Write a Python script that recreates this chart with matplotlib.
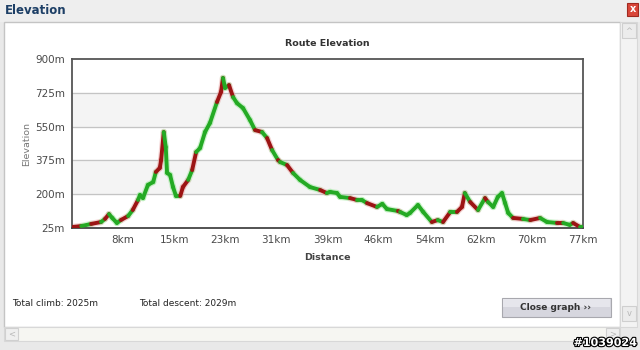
import numpy as np
import matplotlib.pyplot as plt
from matplotlib.collections import LineCollection
from matplotlib.patches import Rectangle
import matplotlib.patheffects as pe

# route profile (km, m)
dist_km = [0.0, 1.4, 2.9, 4.4, 5.0, 5.6, 6.1, 6.8, 7.4, 8.5, 9.2, 10.0, 10.3, 10.75,
           11.5, 12.3, 12.7, 13.3, 13.5, 13.9, 14.2, 14.4, 14.85, 15.3, 15.75, 16.4,
           16.8, 17.6, 18.2, 18.8, 19.4, 20.15, 20.9, 21.96, 22.57, 22.87, 23.18,
           23.78, 24.39, 25.0, 25.9, 26.96, 27.72, 28.78, 29.54, 30.3, 31.2, 31.5,
           32.57, 33.48, 34.54, 36.05, 37.57, 38.6, 39.08, 40.14, 40.6, 42.1, 43.17,
           43.9, 44.68, 46.2, 47.0, 47.7, 49.38, 49.7, 50.7, 51.2, 52.4, 53.2, 54.5,
           55.4, 56.2, 57.3, 58.3, 59.07, 59.5, 60.3, 61.5, 62.56, 63.0, 63.8, 64.5,
           65.13, 65.6, 66.07, 66.8, 68.3, 69.4, 70.9, 71.95, 73.5, 74.4, 75.4, 75.9,
           76.95, 77.4]
elev_m = [30, 35, 46, 56, 72, 97, 77, 51, 66, 87, 118, 170, 196, 180,
          248, 263, 315, 336, 377, 522, 444, 310, 300, 237, 191, 191,
          237, 274, 325, 418, 439, 522, 569, 677, 729, 802, 750,
          765, 703, 671, 646, 584, 532, 522, 491, 429, 377, 367,
          351, 310, 274, 237, 222, 206, 212, 206, 186, 180, 170,
          170, 154, 134, 150, 123, 113, 108, 92, 103, 144, 108, 56,
          66, 56, 108, 108, 134, 206, 160, 118, 180, 160, 134, 186,
          206, 154, 103, 77, 72, 66, 77, 56, 51, 51, 41, 51,
          30, 30]
# stretches drawn in red (km)
red_spans = [(0, 1.4), (2.9, 4.4), (5.0, 5.6), (7.4, 8.5), (9.2, 10.0), (12.7, 13.9),
             (16.4, 17.6), (18.2, 18.8), (21.96, 22.87), (23.78, 24.39), (27.72, 28.78),
             (29.54, 30.3), (31.2, 31.5), (32.57, 33.48), (37.57, 38.6), (42.1, 43.17),
             (44.68, 46.2), (49.38, 49.7), (54.5, 55.4), (56.2, 57.3), (58.3, 59.5),
             (60.3, 61.5), (62.56, 63.0), (66.8, 68.3), (69.4, 70.9), (73.5, 74.4),
             (75.9, 76.95)]

y_ticks = [25, 200, 375, 550, 725, 900]
x_max = 77.4
x_tick_labels = ["8km", "15km", "23km", "31km", "39km", "46km", "54km", "62km", "70km", "77km"]
total_climb = 2025
total_descent = 2029

GREEN = "#24aa24"
RED = "#9c1414"

fig = plt.figure(figsize=(6.4, 3.5), dpi=100)
fig.patch.set_facecolor("#e9e9e9")

# window decorations in pixel coordinates
bg = fig.add_axes([0, 0, 1, 1])
bg.set_xlim(0, 640)
bg.set_ylim(350, 0)
bg.axis("off")
bg.add_patch(Rectangle((0, 0), 640, 22, fc="#eeeeee", ec="none"))
bg.text(5, 11, "Elevation", fontsize=8.5, fontweight="bold", color="#1d3f66", va="center")
bg.add_patch(Rectangle((627, 3), 11, 13, fc="#d9473a", ec="#a02a20", lw=0.8))
bg.text(632.5, 9.5, "x", fontsize=7, fontweight="bold", color="white", ha="center", va="center")
bg.add_patch(Rectangle((4, 22), 616, 305, fc="white", ec="#c4c4c4", lw=1))
# vertical scrollbar
bg.add_patch(Rectangle((620, 22), 17, 305, fc="#f3f3f3", ec="#d8d8d8", lw=0.8))
bg.add_patch(Rectangle((622, 23), 14, 15, fc="#ececec", ec="#cfcfcf", lw=0.8))
bg.add_patch(Rectangle((622, 306), 14, 15, fc="#ececec", ec="#cfcfcf", lw=0.8))
bg.text(629, 31, "^", fontsize=6, color="#b8b8b8", ha="center", va="center")
bg.text(629, 313, "v", fontsize=6, color="#b8b8b8", ha="center", va="center")
# horizontal scrollbar
bg.add_patch(Rectangle((4, 327), 616, 14, fc="#f6f6f2", ec="#d8d8d8", lw=0.8))
bg.add_patch(Rectangle((5, 328), 13, 12, fc="#efefef", ec="#d0d0d0", lw=0.8))
bg.add_patch(Rectangle((606, 328), 13, 12, fc="#efefef", ec="#d0d0d0", lw=0.8))
bg.text(11.5, 334, "<", fontsize=6, color="#b8b8b8", ha="center", va="center")
bg.text(612.5, 334, ">", fontsize=6, color="#b8b8b8", ha="center", va="center")

# totals and button
bg.text(12, 303, "Total climb: %dm" % total_climb, fontsize=6.5, color="#222222", va="center")
bg.text(139, 303, "Total descent: %dm" % total_descent, fontsize=6.5, color="#222222", va="center")
bg.add_patch(Rectangle((502, 298), 109, 19, fc="#d6d6de", ec="#a8a8ae", lw=0.8))
bg.add_patch(Rectangle((503, 299), 107, 8, fc="#e6e6ec", ec="none"))
bg.text(556, 307.5, "Close graph \u203a\u203a", fontsize=6.5, fontweight="bold",
        color="#333333", ha="center", va="center")
bg.text(637, 343, "#1039024", fontsize=8, fontweight="bold", color="white",
        ha="right", va="center",
        path_effects=[pe.withStroke(linewidth=1.6, foreground="black")])

# chart
ax = fig.add_axes([72 / 640, (350 - 228) / 350, 511 / 640, 169 / 350])
ax.set_xlim(0, x_max)
ax.set_ylim(y_ticks[0], y_ticks[-1])
ax.set_facecolor("white")
for lo, hi in [(y_ticks[1], y_ticks[2]), (y_ticks[3], y_ticks[4])]:
    ax.axhspan(lo, hi, color="#f4f4f4", zorder=0)
for yv in y_ticks[1:-1]:
    ax.axhline(yv, color="#c4c4c4", lw=0.9, zorder=1)

pts = np.column_stack([dist_km, elev_m])
segs = np.stack([pts[:-1], pts[1:]], axis=1)
mids = (np.array(dist_km[:-1]) + np.array(dist_km[1:])) / 2
is_red = [any(a <= m <= b for a, b in red_spans) for m in mids]
cols = [RED if r else GREEN for r in is_red]
glow = ["#e8a0a0" if r else "#9ee89e" for r in is_red]
ax.add_collection(LineCollection(segs, colors=glow, linewidths=4.6, alpha=0.45,
                                 capstyle="round", joinstyle="round", zorder=2))
ax.add_collection(LineCollection(segs, colors=cols, linewidths=2.8,
                                 capstyle="round", joinstyle="round", zorder=3))

ax.set_yticks(y_ticks)
ax.set_yticklabels(["%dm" % v for v in y_ticks])
ax.set_xticks([x_max * (i + 1) / len(x_tick_labels) for i in range(len(x_tick_labels))])
ax.set_xticklabels(x_tick_labels)
ax.tick_params(length=0, labelsize=7.5, labelcolor="#4a4a4a", pad=5)
for s in ax.spines.values():
    s.set_color("#555555")
    s.set_linewidth(1.3)
ax.spines["bottom"].set_color("#444444")

ax.set_title("Route Elevation", fontsize=6.8, fontweight="bold", color="#333333", pad=9)
ax.set_xlabel("Distance", fontsize=6.8, fontweight="bold", color="#444444", labelpad=6)
ax.set_ylabel("Elevation", fontsize=6.8, color="#777777", labelpad=3)

fig.savefig("out.png", dpi=100, facecolor=fig.get_facecolor())
